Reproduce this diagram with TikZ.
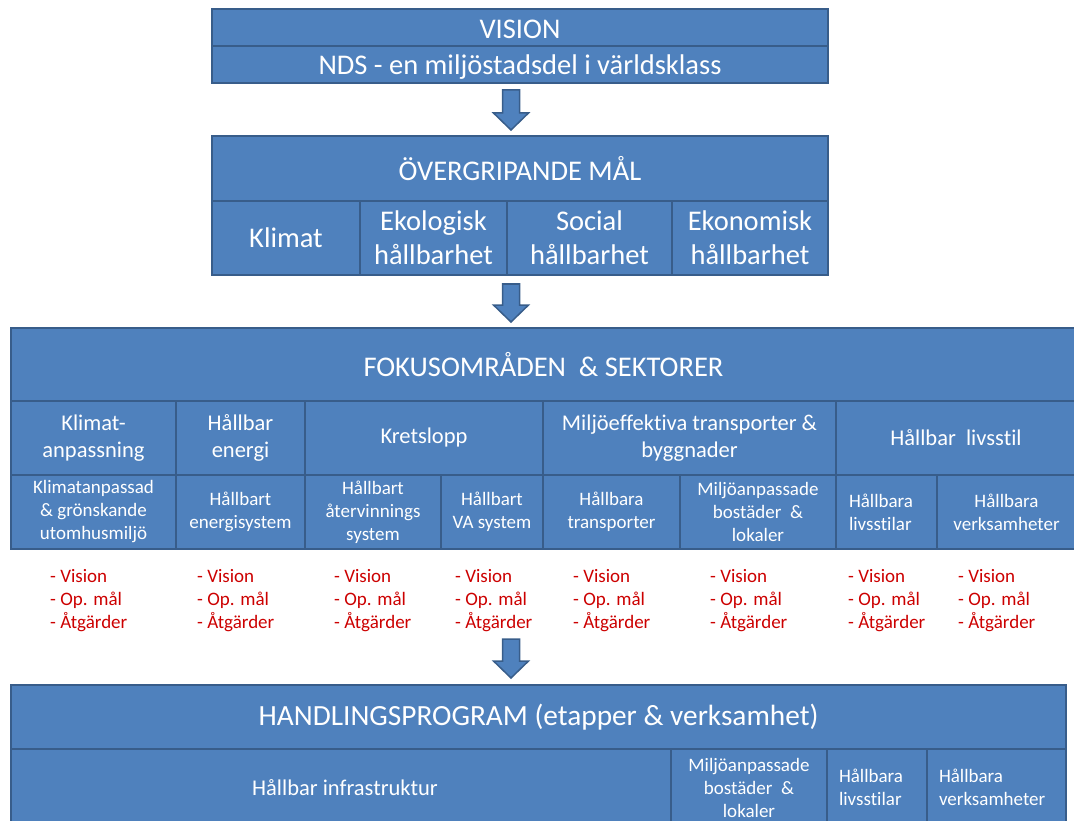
\documentclass[tikz,border=0pt]{standalone}
\usepackage{fontspec}
\setmainfont{Carlito}[Ligatures=NoCommon]
\usetikzlibrary{calc}
\definecolor{boxfill}{RGB}{79,129,189}
\definecolor{boxline}{RGB}{56,93,138}
\definecolor{listred}{RGB}{204,0,0}
\tikzset{
  cell/.style={draw=boxline, fill=boxfill, line width=2.5pt, text=white, align=center, inner sep=0pt, outer sep=0pt},
  big/.style={font=\fontsize{28.5}{34}\selectfont},
  mid/.style={font=\fontsize{22.5}{27}\selectfont},
  small/.style={font=\fontsize{19}{23}\selectfont},
  lst/.style={text=listred, align=left, anchor=west, inner sep=0pt, font=\fontsize{19}{23}\selectfont},
  barrow/.style={draw=boxline, fill=boxfill, line width=1.5pt, line join=miter}
}
% [style] name x1 y1 x2 y2 text
\newcommand{\mycell}[7][]{%
  \node[cell,#1,minimum width={(#5-#3)*1pt},minimum height={(#6-#4)*1pt}] (#2) at ({(#3+#5)/2},{(#4+#6)/2}) {#7};}
% block arrow from named start coordinate to named tip coordinate
\newcommand{\blockarrow}[2]{%
  \draw[barrow] let \p1=(#1), \p2=(#2) in
    (\x1-8.5pt,\y1) -- (\x1+8.5pt,\y1) -- (\x1+8.5pt,\y2+17pt) -- (\x1+17.5pt,\y2+17pt)
    -- (\x2,\y2) -- (\x1-17.5pt,\y2+17pt) -- (\x1-8.5pt,\y2+17pt) -- cycle;}
\begin{document}
\begin{tikzpicture}[x=1pt,y=-1pt]
\useasboundingbox (0,0) rectangle (1074,821);
\clip (0,0) rectangle (1074,821);
% VISION
\mycell[big]{vision}{212}{9}{828}{46}{\raisebox{-1.5pt}[\height][\depth]{VISION}}
\mycell[big]{nds}{212}{46}{828}{83}{\raisebox{-2.5pt}[\height][\depth]{NDS - en miljöstadsdel i världsklass}}
% Övergripande mål
\mycell[big]{mal}{212}{136}{828}{201}{ÖVERGRIPANDE MÅL}
\mycell[big]{klimat}{212}{201}{360}{275}{Klimat}
\mycell[big]{eko}{360}{201}{507}{275}{Ekologisk\\hållbarhet}
\mycell[big]{soc}{507}{201}{672}{275}{Social\\hållbarhet}
\mycell[big]{ekon}{672}{201}{828}{275}{Ekonomisk\\hållbarhet}
% Fokusområden
\mycell[big]{fokus}{11}{328}{1076}{401}{FOKUSOMRÅDEN \ \& SEKTORER}
\mycell[mid]{fa}{11}{401}{176}{475}{Klimat-\\anpassning}
\mycell[mid]{fb}{176}{401}{305}{475}{Hållbar\\energi}
\mycell[mid]{fc}{305}{401}{543}{475}{Kretslopp}
\mycell[mid]{fd}{543}{401}{836}{475}{Miljöeffektiva transporter \&\\byggnader}
\mycell[mid]{fe}{836}{401}{1076}{475}{Hållbar \ livsstil}
\mycell[small]{sa}{11}{475}{176}{549}{Klimatanpassad\\\& grönskande\\utomhusmiljö}
\mycell[small]{sb}{176}{475}{305}{549}{Hållbart\\energisystem}
\mycell[small]{sc}{305}{475}{441}{549}{Hållbart\\återvinnings\\system}
\mycell[small]{sd}{441}{475}{543}{549}{Hållbart\\VA system}
\mycell[small]{se}{543}{475}{680}{549}{Hållbara\\transporter}
\mycell[small]{sf}{680}{475}{836}{549}{Miljöanpassade\\bostäder \ \&\\lokaler}
\mycell[small,align=left,text width=75pt]{sg}{836}{475}{937}{549}{Hållbara\\livsstilar}
\mycell[small]{sh}{937}{475}{1076}{549}{Hållbara\\verksamheter}
% red lists
\node[lst] (l1) at (50,601) {- Vision\\- Op. mål\\- Åtgärder};
\node[lst] (l2) at (197,601) {- Vision\\- Op. mål\\- Åtgärder};
\node[lst] (l3) at (334,601) {- Vision\\- Op. mål\\- Åtgärder};
\node[lst] (l4) at (455,601) {- Vision\\- Op. mål\\- Åtgärder};
\node[lst] (l5) at (573,601) {- Vision\\- Op. mål\\- Åtgärder};
\node[lst] (l6) at (710,601) {- Vision\\- Op. mål\\- Åtgärder};
\node[lst] (l7) at (848,601) {- Vision\\- Op. mål\\- Åtgärder};
\node[lst] (l8) at (958,601) {- Vision\\- Op. mål\\- Åtgärder};
% Handlingsprogram
\mycell[font=\fontsize{29.3}{35}\selectfont]{hand}{11}{685}{1066}{749}{HANDLINGSPROGRAM (etapper \& verksamhet)}
\mycell[mid]{infra}{11}{749}{671}{826}{\hspace*{8pt}Hållbar infrastruktur}
\mycell[small]{hb}{671}{749}{827}{826}{Miljöanpassade\\bostäder \ \&\\lokaler}
\mycell[small,align=left,text width=76pt]{hc}{827}{749}{927}{826}{Hållbara\\livsstilar}
\mycell[small,align=left,text width=115pt]{hd}{927}{749}{1066}{826}{Hållbara\\verksamheter}
% arrows
\coordinate (a1s) at (511,90);  \coordinate (a1e) at (511,130);
\coordinate (a2s) at (511,284); \coordinate (a2e) at (511,322);
\coordinate (a3s) at (511,639); \coordinate (a3e) at (511,678);
\blockarrow{a1s}{a1e}
\blockarrow{a2s}{a2e}
\blockarrow{a3s}{a3e}
\end{tikzpicture}
\end{document}
